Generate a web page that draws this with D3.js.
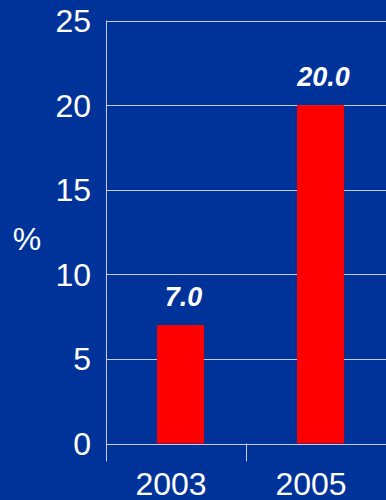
<!DOCTYPE html>
<html>
<head>
<meta charset="utf-8">
<script src="https://cdn.jsdelivr.net/npm/d3@7"></script>
<style>
  body { margin: 0; background: #003399; }
  svg { display: block; font-family: "Liberation Sans", Arial, sans-serif; }
</style>
</head>
<body>
<div id="plot"></div>
<script>
var width = 386;
var height = 500;
var margin = {top: 20.5, right: 0, bottom: 56.5, left: 106};

// data
var years = ["2003", "2005"];
var values = [7.0, 20.0];
var yTicks = [0, 5, 10, 15, 20, 25];

var svg = d3.select("#plot")
    .append("svg")
    .attr("width", width)
    .attr("height", height);

var x = d3.scaleBand()
    .domain(years)
    .range([margin.left, width - margin.right]);

var y = d3.scaleLinear()
    .domain([0, 25])
    .range([height - margin.bottom, margin.top]);

var lineColor = "#c9cde0";

// gridlines (also the baseline at 0)
svg.selectAll("line.grid")
    .data(yTicks)
    .enter()
    .append("line")
    .attr("class", "grid")
    .attr("x1", margin.left)
    .attr("x2", width)
    .attr("y1", function(d) { return Math.round(y(d)) + 0.5; })
    .attr("y2", function(d) { return Math.round(y(d)) + 0.5; })
    .attr("stroke", lineColor)
    .attr("stroke-width", 1);

// y axis line, runs a bit below baseline
svg.append("line")
    .attr("x1", margin.left + 0.5)
    .attr("x2", margin.left + 0.5)
    .attr("y1", y(25))
    .attr("y2", y(0) + 18)
    .attr("stroke", lineColor);

// category separator tick
svg.selectAll("line.sep")
    .data(years.slice(1))
    .enter()
    .append("line")
    .attr("class", "sep")
    .attr("x1", function(d) { return Math.round(x(d)) + 0.5; })
    .attr("x2", function(d) { return Math.round(x(d)) + 0.5; })
    .attr("y1", y(0))
    .attr("y2", y(0) + 18)
    .attr("stroke", lineColor);

// bars
var barW = x.step() * 0.337;
var barOff = x.step() * 0.364;
svg.selectAll("rect")
    .data(values)
    .enter()
    .append("rect")
    .attr("x", function(d, i) { return x(years[i]) + barOff; })
    .attr("y", function(d) { return y(d); })
    .attr("width", barW)
    .attr("height", function(d) { return y(0) - y(d); })
    .attr("fill", "#ff0000");

// value labels
svg.selectAll("text.val")
    .data(values)
    .enter()
    .append("text")
    .attr("class", "val")
    .text(function(d) { return d.toFixed(1); })
    .attr("x", function(d, i) { return x(years[i]) + barOff + barW / 2 + 3; })
    .attr("y", function(d) { return y(d) - 19; })
    .attr("text-anchor", "middle")
    .attr("font-size", "27px")
    .attr("font-weight", "bold")
    .attr("font-style", "italic")
    .attr("fill", "white");

// y tick labels
svg.selectAll("text.ytick")
    .data(yTicks)
    .enter()
    .append("text")
    .attr("class", "ytick")
    .text(function(d) { return d; })
    .attr("x", 91)
    .attr("y", function(d) { return y(d) + 11.5; })
    .attr("text-anchor", "end")
    .attr("font-size", "32px")
    .attr("fill", "white");

// x labels
svg.selectAll("text.xlab")
    .data(years)
    .enter()
    .append("text")
    .attr("class", "xlab")
    .text(function(d) { return d; })
    .attr("x", function(d) { return x(d) + x.bandwidth() / 2 - 5; })
    .attr("y", 495)
    .attr("text-anchor", "middle")
    .attr("font-size", "32px")
    .attr("fill", "white");

// unit label
svg.append("text")
    .text("%")
    .attr("x", 27)
    .attr("y", 250)
    .attr("text-anchor", "middle")
    .attr("font-size", "32px")
    .attr("fill", "white");
</script>
</body>
</html>
